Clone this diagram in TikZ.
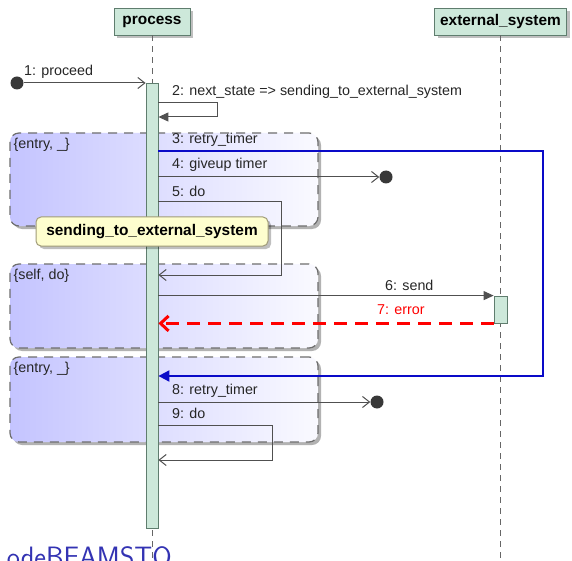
\documentclass[tikz,border=0pt]{standalone}
\usepackage{fontspec}
\newfontfamily\lblfont{Liberation Sans}
\usetikzlibrary{arrows.meta,shadows}
\definecolor{mint}{RGB}{205,232,218}
\definecolor{mintborder}{RGB}{95,125,110}
\definecolor{lav}{RGB}{196,196,255}
\definecolor{lavright}{RGB}{250,250,255}
\definecolor{notefill}{RGB}{254,254,206}
\definecolor{noteborder}{RGB}{160,155,120}
\definecolor{msggray}{RGB}{80,80,80}
\definecolor{grpborder}{RGB}{110,110,110}
\definecolor{retryblue}{RGB}{10,10,200}
\definecolor{beamerblue}{RGB}{51,51,179}
\tikzset{
  lbl/.style={font=\lblfont\fontsize{14.3}{16}\selectfont, inner sep=0pt, text=black!85},
  lifebox/.style={draw=mintborder, fill=mint, line width=0.9pt,
    font=\lblfont\bfseries\fontsize{15.4}{17}\selectfont, minimum height=27pt, inner sep=0pt,
    drop shadow={shadow xshift=3pt, shadow yshift=-3pt, fill=black, opacity=0.25}},
  lifeline/.style={draw=black!60, line width=0.9pt, dash pattern=on 6pt off 5pt},
  actbar/.style={draw=mintborder, fill=mint, line width=0.8pt, inner sep=0pt},
  grp/.style={draw=grpborder, line width=1.2pt, dash pattern=on 9pt off 7pt,
    rounded corners=9pt, left color=lav, right color=lavright, inner sep=0pt,
    drop shadow={shadow xshift=3pt, shadow yshift=-3pt, fill=black, opacity=0.3}},
  note/.style={draw=noteborder, fill=notefill, line width=1pt, rounded corners=5pt,
    font=\lblfont\bfseries\fontsize{15.4}{17}\selectfont, inner sep=0pt,
    drop shadow={shadow xshift=3pt, shadow yshift=-3pt, fill=black, opacity=0.25}},
  dot/.style={circle, fill=black!78, inner sep=0pt, minimum size=13pt},
  msg/.style={draw=msggray, line width=1pt},
  opentip/.style={-{Straight Barb[length=7pt,width=11pt]}},
  filltip/.style={-{Triangle[length=10pt,width=9pt]}},
  retry/.style={draw=retryblue, line width=2pt, -{Triangle[length=11pt,width=11pt]}},
  errmsg/.style={draw=red, line width=3pt, dash pattern=on 13pt off 8pt,
    -{Straight Barb[length=8pt,width=15pt]}},
}
\begin{document}
\begin{tikzpicture}[x=1pt,y=-1pt]
\useasboundingbox (0,0) rectangle (572,561);
\clip (0,0) rectangle (572,561);
\fill[white] (0,0) rectangle (572,561);

% state groups
\node[grp, minimum width=308pt, minimum height=93pt] (g1) at (164,179.5) {};
\node[grp, minimum width=308pt, minimum height=84pt] (g2) at (164,306) {};
\node[grp, minimum width=308pt, minimum height=85pt] (g3) at (164,399.5) {};
\node[lbl, anchor=north west, xshift=4pt, yshift=-6pt] (g1l) at (g1.north west) {\{entry, \_\}};
\node[lbl, anchor=north west, xshift=4pt, yshift=-6pt] (g2l) at (g2.north west) {\{self, do\}};
\node[lbl, anchor=north west, xshift=4pt, yshift=-6pt] (g3l) at (g3.north west) {\{entry, \_\}};

% participants and lifelines
\node[lifebox, minimum width=76pt] (p) at (152,21.5) {process};
\node[lifebox, minimum width=132pt] (e) at (500.5,21.5) {external\_system};
\coordinate (pbot) at (152,561);
\coordinate (ebot) at (500.5,561);
\draw[lifeline] (p.south) -- (pbot);
\draw[lifeline] (e.south) -- (ebot);

% activations
\node[actbar, minimum width=12pt, minimum height=445pt] (pa) at (152,305.5) {};
\node[actbar, minimum width=13pt, minimum height=27pt] (ea) at (500.5,309.5) {};

% 1: proceed
\node[dot] (s1) at (17,83) {};
\draw[msg, opentip] (s1) -- (s1 -| pa.west);
\node[lbl, anchor=west] (l1) at (24,72) {1: proceed};

% 2: next_state
\coordinate (c2a) at (217,103);
\coordinate (c2b) at (217,117);
\draw[msg, filltip] (pa.east |- c2a) -- (c2a) -- (c2b) -- (pa.east |- c2b);
\node[lbl, anchor=west] (l2) at (172,92) {2: next\_state => sending\_to\_external\_system};

% 3: retry_timer (loops back to 8)
\coordinate (b1) at (543,151);
\coordinate (b2) at (543,376);
\draw[retry] (pa.east |- b1) -- (b1) -- (b2) -- (pa.east |- b2);
\node[lbl, anchor=west] (l3) at (172,140) {3: retry\_timer};

% 4: giveup timer
\node[dot] (d4) at (386,177) {};
\draw[msg, opentip] (pa.east |- d4) -- (d4);
\node[lbl, anchor=west] (l4) at (172,165) {4: giveup timer};

% 5: do
\coordinate (c5a) at (281,202);
\coordinate (c5b) at (281,275);
\draw[msg, opentip] (pa.east |- c5a) -- (c5a) -- (c5b) -- (pa.east |- c5b);
\node[lbl, anchor=west] (l5) at (172,191) {5: do};

% state note
\node[note, minimum width=232pt, minimum height=29pt] (n) at (152,231.5) {sending\_to\_external\_system};

% 6: send / 7: error
\draw[msg, filltip] (pa.east |- ea.north) -- (ea.north west);
\node[lbl, anchor=west] (l6) at (385,285) {6: send};
\draw[errmsg] (ea.south west) -- (pa.east |- ea.south);
\node[lbl, anchor=west, text=red] (l7) at (377,310) {7: error};

% 8: retry_timer
\node[dot] (d8) at (377,402) {};
\draw[msg, opentip] (pa.east |- d8) -- (d8);
\node[lbl, anchor=west] (l8) at (172,391) {8: retry\_timer};

% 9: do
\coordinate (c9a) at (272,425);
\coordinate (c9b) at (272,460);
\draw[msg, opentip] (pa.east |- c9a) -- (c9a) -- (c9b) -- (pa.east |- c9b);
\node[lbl, anchor=west] (l9) at (172,413) {9: do};

% stray caption text at the bottom edge
\node[anchor=base east, inner sep=0pt, text=beamerblue,
  font=\sffamily\fontsize{28}{30}\selectfont] (cap) at (172,566) {odeBEAMSTO};
\end{tikzpicture}
\end{document}
